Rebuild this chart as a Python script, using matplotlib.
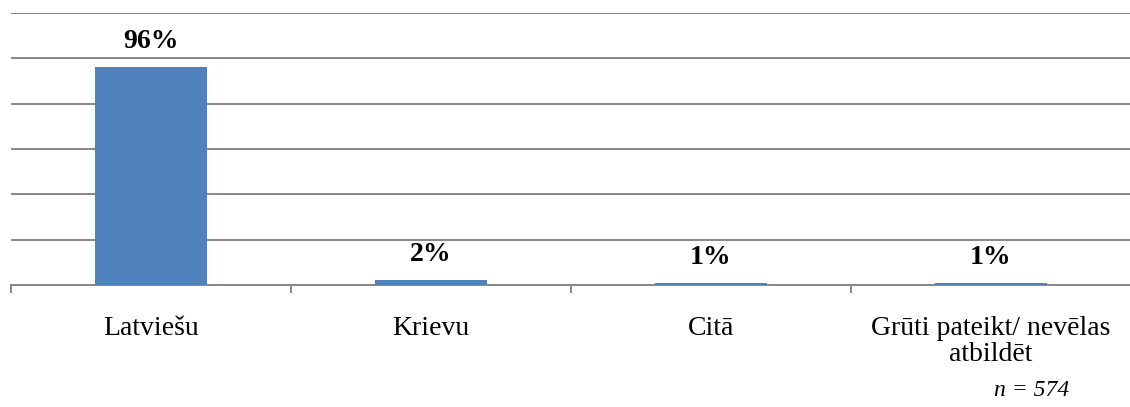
import matplotlib
matplotlib.use("Agg")
import matplotlib.pyplot as plt

valodas = ["Latviešu", "Krievu", "Citā", "Grūti pateikt/ nevēlas\natbildēt"]
procenti = [96, 2, 1, 1]
n_kopa = 574

plt.rcParams['font.family'] = ['Liberation Serif', 'DejaVu Serif']

fig = plt.figure(figsize=(11.3, 4.07), dpi=100)
ax = fig.add_axes([11/1130, (407-285)/407, 1120/1130, (285-13)/407])

x = range(len(valodas))
bars = ax.bar(x, procenti, width=0.4, color="#4F81BD", zorder=3)

ax.set_xlim(-0.5, len(valodas) - 0.5)
ax.set_ylim(0, 120)
ax.set_yticks(range(0, 121, 20))
ax.yaxis.grid(True, color="#878787", linewidth=1.4, zorder=0)
ax.tick_params(axis="y", left=False, labelleft=False)

# ticks between categories
ax.set_xticks([i - 0.5 for i in range(len(valodas) + 1)])
ax.set_xticklabels([])
ax.set_xticks(list(x), minor=True)
ax.set_xticklabels(valodas, minor=True, fontsize=20, linespacing=1.05)
ax.tick_params(axis="x", which="major", length=6, width=1.4, color="#878787")
ax.tick_params(axis="x", which="minor", length=0, pad=22)

for s in ["top", "right", "left"]:
    ax.spines[s].set_visible(False)
ax.spines["bottom"].set_color("#878787")
ax.spines["bottom"].set_linewidth(1.4)

for b, v in zip(bars, procenti):
    ax.annotate(f"{v}%", (b.get_x() + b.get_width() / 2, v),
                xytext=(0, 18.5), textcoords="offset points",
                ha="center", va="center", fontsize=20, fontweight="bold")

fig.text(1032/1130, 1 - 391/407, f"n = {n_kopa}", fontsize=17, style="italic",
         ha="center", va="center")

fig.savefig("out.png", dpi=100)
